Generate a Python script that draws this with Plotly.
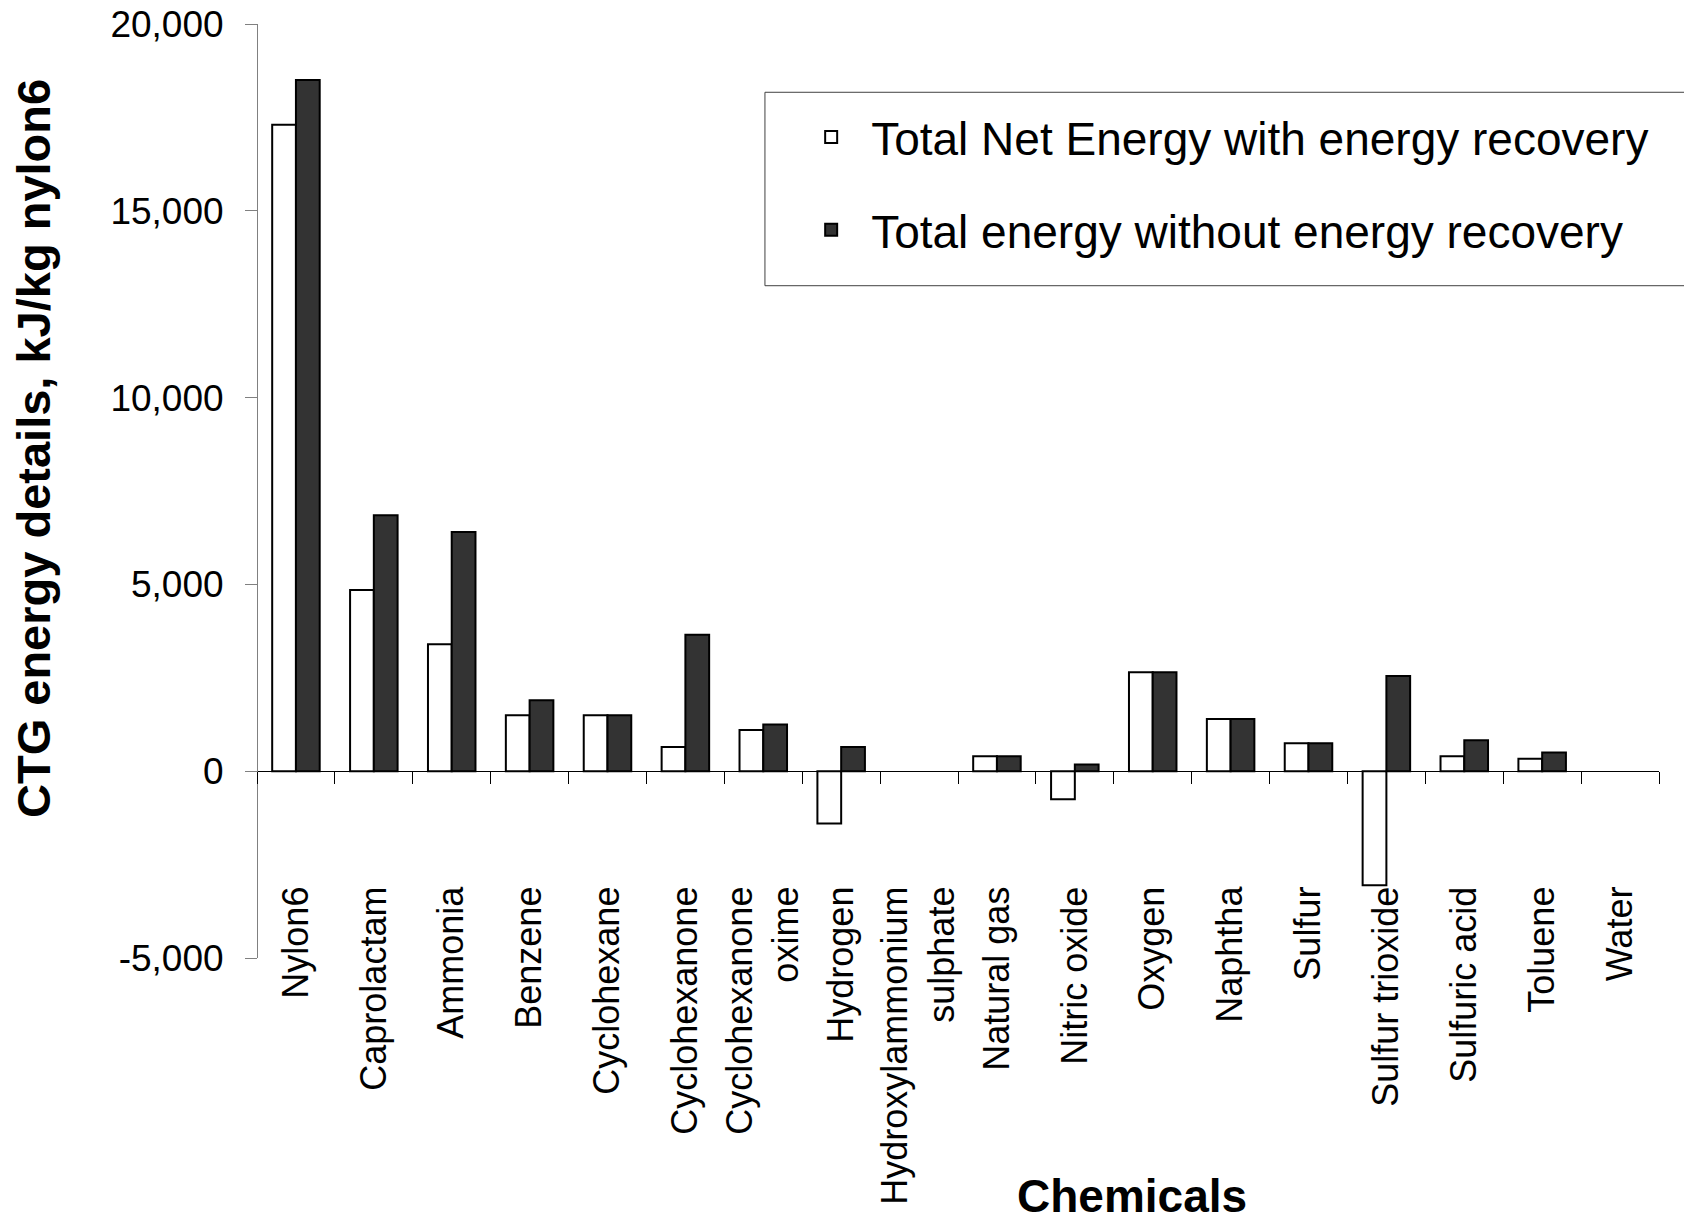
import plotly.graph_objects as go

categories = ["Nylon6", "Caprolactam", "Ammonia", "Benzene", "Cyclohexane",
              "Cyclohexanone", "Cyclohexanone oxime", "Hydrogen",
              "Hydroxylammonium sulphate", "Natural gas", "Nitric oxide",
              "Oxygen", "Naphtha", "Sulfur", "Sulfur trioxide",
              "Sulfuric acid", "Toluene", "Water"]
category_labels = ["Nylon6", "Caprolactam", "Ammonia", "Benzene", "Cyclohexane",
                   "Cyclohexanone", "Cyclohexanone<br>oxime", "Hydrogen",
                   "Hydroxylammonium<br>sulphate", "Natural gas", "Nitric oxide",
                   "Oxygen", "Naphtha", "Sulfur", "Sulfur trioxide",
                   "Sulfuric acid", "Toluene", "Water"]

net_with_recovery = [17300, 4850, 3400, 1500, 1500, 650, 1100, -1400, 0,
                     400, -750, 2650, 1400, 750, -3050, 400, 330, 0]
total_without_recovery = [18500, 6850, 6400, 1900, 1500, 3650, 1250, 650, 0,
                          400, 180, 2650, 1400, 750, 2550, 830, 500, 0]

series_names = ["Total Net Energy with energy recovery",
                "Total energy without energy recovery"]

y_tick_values = [-5000, 0, 5000, 10000, 15000, 20000]
y_tick_labels = ["-5,000", "0", "5,000", "10,000", "15,000", "20,000"]

y_title = "CTG energy details, kJ/kg nylon6"
x_title = "Chemicals"

FONT = "Liberation Sans, Arial, sans-serif"


def outline_widths(values):
    # no visible outline for empty (zero) bars
    return [0 if v == 0 else 2 for v in values]


fig = go.Figure()
fig.add_trace(go.Bar(
    x=categories, y=net_with_recovery, name=series_names[0],
    legendgroup="a",
    marker=dict(color="white",
                line=dict(color="black", width=outline_widths(net_with_recovery))),
))
fig.add_trace(go.Bar(
    x=categories, y=total_without_recovery, name=series_names[1],
    legendgroup="b",
    marker=dict(color="#333333",
                line=dict(color="black", width=outline_widths(total_without_recovery))),
))

fig.update_layout(
    width=1684, height=1229,
    margin=dict(l=257, r=25, t=24, b=271, autoexpand=False),
    paper_bgcolor="white", plot_bgcolor="white",
    font=dict(family=FONT, color="black"),
    barmode="group", bargap=0.39, bargroupgap=0,
    showlegend=True,
    legend=dict(
        x=0.381, y=0.918, xanchor="left", yanchor="top",
        borderwidth=0, bgcolor="rgba(0,0,0,0)",
        font=dict(family=FONT, size=46, color="black"),
        tracegroupgap=30, traceorder="grouped",
        itemwidth=70,
    ),
    # frame of the legend box
    shapes=[dict(type="rect", xref="paper", yref="paper",
                 x0=0.3623, x1=1.06, y0=0.7198, y1=0.9269,
                 line=dict(color="#404040", width=1),
                 fillcolor="white", layer="below")],
    xaxis=dict(
        type="category", range=[-0.5, 17.5],
        anchor="free", position=0.2,
        showline=True, linecolor="black", linewidth=1,
        ticks="outside", tickson="boundaries", ticklen=12, tickwidth=1,
        tickcolor="black",
        tickmode="array", tickvals=categories, ticktext=category_labels,
        tickangle=-90, tickfont=dict(family=FONT, size=36, color="black"),
        ticklabelstandoff=100,
        showgrid=False, zeroline=False, automargin=False,
    ),
    yaxis=dict(
        range=[-5000, 20000], anchor="free", position=0,
        tickmode="array", tickvals=y_tick_values, ticktext=y_tick_labels,
        ticks="outside", ticklen=12, tickwidth=1, tickcolor="#808080",
        showline=True, linecolor="#808080", linewidth=1,
        tickfont=dict(family=FONT, size=37, color="black"),
        ticklabelstandoff=14,
        showgrid=False, zeroline=False, automargin=False,
    ),
    annotations=[
        dict(text="<b>" + y_title + "</b>", xref="paper", yref="paper",
             x=-0.1598, y=0.546, xanchor="center", yanchor="middle",
             textangle=-90, showarrow=False,
             font=dict(family=FONT, size=47, color="black")),
        dict(text="<b>" + x_title + "</b>", xref="paper", yref="paper",
             x=0.624, y=-0.2548, xanchor="center", yanchor="middle",
             showarrow=False,
             font=dict(family=FONT, size=46, color="black")),
    ],
)

fig.write_html("out.html", config={"displayModeBar": False},
               post_script="document.body.style.margin='0';")
